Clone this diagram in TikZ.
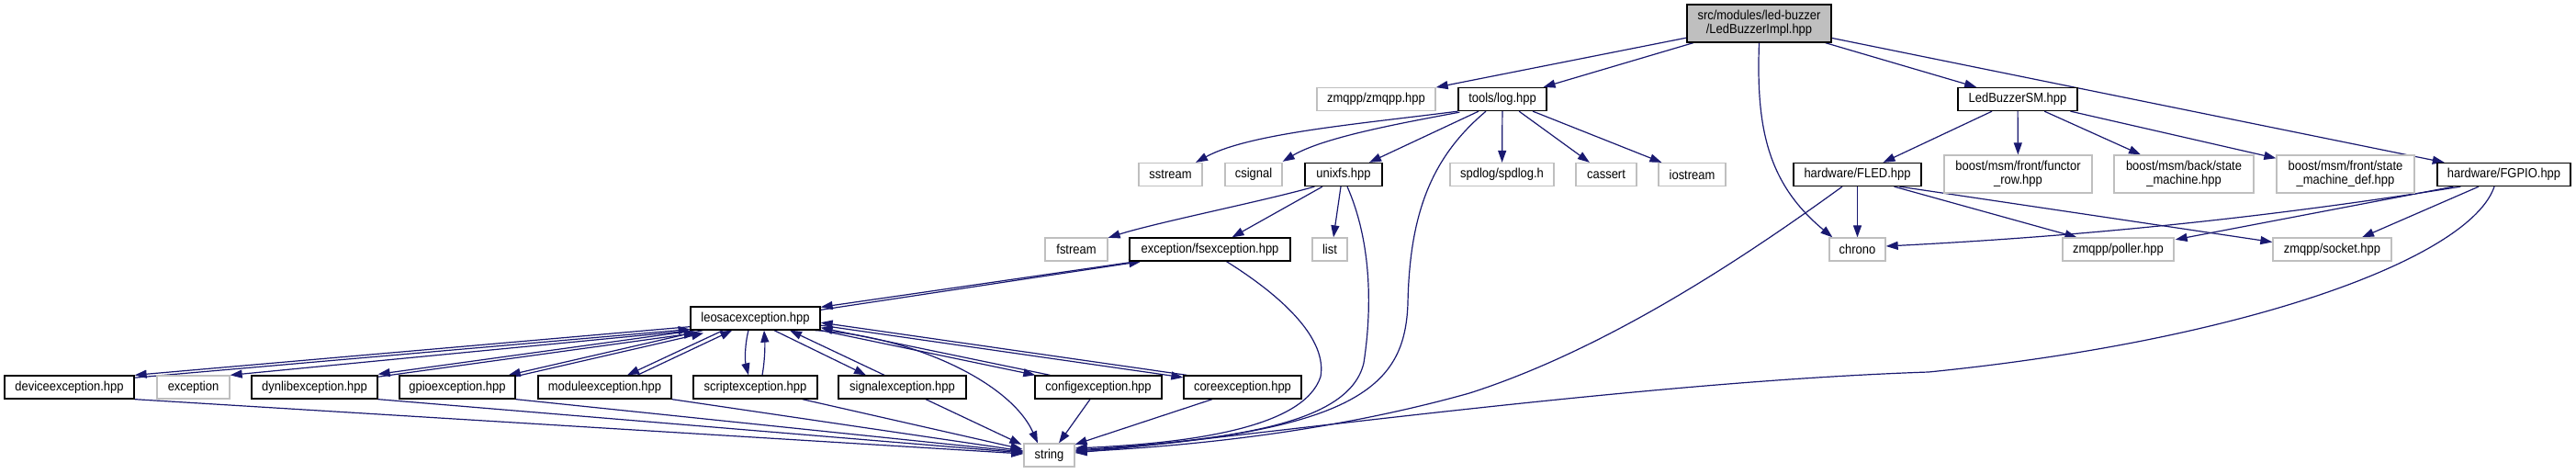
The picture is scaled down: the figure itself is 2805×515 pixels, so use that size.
\documentclass[tikz,border=0pt]{standalone}
\usepackage{fontspec}
\setmainfont{Liberation Sans}[FakeStretch=0.9]
\usetikzlibrary{arrows.meta,calc}
\definecolor{edgec}{HTML}{191970}
\definecolor{grayb}{HTML}{BFBFBF}
\definecolor{rootf}{HTML}{BFBFBF}
\pgfdeclarelayer{bg}
\pgfdeclarelayer{edges}
\pgfsetlayers{bg,edges,main}
\tikzset{
  box/.style={draw=black, fill=white, line width=1.3pt, rectangle, inner sep=0pt,
    minimum height=25pt, font=\fontsize{14.4}{15.5}\selectfont, align=center, text=black},
  ext/.style={box, draw=grayb},
  e/.style={draw=edgec, line width=1.2pt, -{Triangle[length=13pt,width=9pt]}},
}
\begin{document}
\begin{tikzpicture}[x=1pt,y=-1pt]
\begin{pgfonlayer}{bg}
\fill[white] (0,0) rectangle (2805,515);
\end{pgfonlayer}
\useasboundingbox (0,0) rectangle (2805,515);

% ---- nodes ----
\node[box, fill=rootf, minimum width=157pt, minimum height=41pt] (root) at (1915.5,25.5) {src/modules/led-buzzer\\/LedBuzzerImpl.hpp};

\node[ext, minimum width=129pt] (zmqpp) at (1498.5,108) {zmqpp/zmqpp.hpp};
\node[box, minimum width=96pt] (log) at (1636,108) {tools/log.hpp};
\node[box, minimum width=130pt] (sm) at (2197,108) {LedBuzzerSM.hpp};

\node[ext, minimum width=69pt] (sstream) at (1274.5,190) {sstream};
\node[ext, minimum width=62pt] (csignal) at (1365,190) {csignal};
\node[box, minimum width=84pt] (unixfs) at (1463,190) {unixfs.hpp};
\node[ext, minimum width=113pt] (spdlog) at (1635.5,190) {spdlog/spdlog.h};
\node[ext, minimum width=66pt] (cassert) at (1749,190) {cassert};
\node[ext, minimum width=73pt] (iostream) at (1842.5,190) {iostream};
\node[box, minimum width=139pt] (fled) at (2022.5,190) {hardware/FLED.hpp};
\node[ext, minimum width=161pt, minimum height=41pt] (functor) at (2197.5,189.5) {boost/msm/front/functor\\\_row.hpp};
\node[ext, minimum width=152pt, minimum height=41pt] (back) at (2378,189.5) {boost/msm/back/state\\\_machine.hpp};
\node[ext, minimum width=150pt, minimum height=41pt] (front) at (2554,189.5) {boost/msm/front/state\\\_machine\_def.hpp};
\node[box, minimum width=145pt] (fgpio) at (2726.5,190) {hardware/FGPIO.hpp};

\node[ext, minimum width=68pt] (fstream) at (1172,271.5) {fstream};
\node[box, minimum width=175pt] (fsex) at (1317.5,271.5) {exception/fsexception.hpp};
\node[ext, minimum width=38pt] (list) at (1448,271.5) {list};
\node[ext, minimum width=61pt] (chrono) at (2022.5,271.5) {chrono};
\node[ext, minimum width=121pt] (poller) at (2306.5,271.5) {zmqpp/poller.hpp};
\node[ext, minimum width=129pt] (socket) at (2539.5,271.5) {zmqpp/socket.hpp};

\node[box, minimum width=141pt] (leosac) at (822.5,346.5) {leosacexception.hpp};

\node[box, minimum width=141pt] (device) at (75.5,421.5) {deviceexception.hpp};
\node[ext, minimum width=79pt] (exc) at (210.5,421.5) {exception};
\node[box, minimum width=137pt] (dynlib) at (342.5,421.5) {dynlibexception.hpp};
\node[box, minimum width=126pt] (gpio) at (498,421.5) {gpioexception.hpp};
\node[box, minimum width=145pt] (module) at (658.5,421.5) {moduleexception.hpp};
\node[box, minimum width=135pt] (script) at (822.5,421.5) {scriptexception.hpp};
\node[box, minimum width=139pt] (signal) at (982.5,421.5) {signalexception.hpp};
\node[box, minimum width=138pt] (config) at (1196,421.5) {configexception.hpp};
\node[box, minimum width=128pt] (core) at (1353,421.5) {coreexception.hpp};

\node[ext, minimum width=55pt] (string) at (1142.5,495.5) {string};

% ---- edges ----
\begin{pgfonlayer}{edges}
% root
\draw[e] (root) -- (zmqpp);
\draw[e] (root) -- (log);
\draw[e] (root) -- (sm);
\draw[e] (root) -- (fgpio);
\draw[e] (root.south) .. controls (1912,140) and (1925,200) .. ($(chrono.north west)+(4,0)$);

% tools/log.hpp
\draw[e] (log.south west) .. controls (1480,135) and (1360,145) .. ($(sstream.north)+(27.5,0)$);
\draw[e] ($(log.south west)+(2,1)$) .. controls (1520,135) and (1440,150) .. ($(csignal.north east)+(0,-1)$);
\draw[e] ($(log.south)+(-26,0)$) -- ($(unixfs.north)+(28,0)$);
\draw[e] (log) -- (spdlog);
\draw[e] (log) -- (cassert);
\draw[e] (log) -- (iostream);
\draw[e] ($(log.south)+(-18,0)$) .. controls (1560,170) and (1535,230) .. (1533,330)
   .. controls (1530,420) and (1480,470) .. ($(string.east)+(0,-4.5)$);

% unixfs.hpp
\draw[e] ($(unixfs.south west)+(11,0)$) .. controls (1380,218) and (1260,242) .. ($(fstream.north east)+(0,0.5)$);
\draw[e] ($(unixfs.south)+(-23,0)$) -- ($(fsex.north)+(24,0)$);
\draw[e] ($(unixfs.south)+(-3,0)$) -- ($(list.north)+(4,0)$);
\draw[e] ($(unixfs.south)+(4,0)$) .. controls (1492,260) and (1495,330) .. (1485,395)
   .. controls (1470,460) and (1350,478) .. ($(string.east)+(0,-5.5)$);

% fsexception.hpp
\draw[e] ($(leosac.north east)+(0,4)$) -- ($(fsex.south west)+(13,0)$);
\draw[e] ($(fsex.south west)+(8,0)$) -- ($(leosac.north east)+(0,1)$);
\draw[e] ($(fsex.south)+(18,0)$) .. controls (1400,325) and (1445,370) .. (1438,410)
   .. controls (1420,465) and (1300,482) .. ($(string.east)+(0,-7.5)$);

% leosacexception pairs
\draw[e] ($(leosac.south west)+(0,-4)$) -- (device.north east);
\draw[e] ($(device.north east)+(0.25,2.8)$) -- ($(leosac.south west)+(0.25,-1.2)$);
\draw[e] ($(leosac.south west)+(4,0)$) -- (exc.north east);
\draw[e] ($(leosac.south west)+(6,0)$) -- ($(dynlib.north east)+(0,-1)$);
\draw[e] ($(dynlib.north east)+(0.4,1.8)$) -- ($(leosac.south west)+(6.4,2.8)$);
\draw[e] ($(leosac.south west)+(14,0)$) -- ($(gpio.north east)+(-8,0)$);
\draw[e] ($(gpio.north east)+(-7.3,3)$) -- ($(leosac.south west)+(14.7,3)$);
\draw[e] ($(leosac.south west)+(36,0)$) -- ($(module.north)+(24.5,0)$);
\draw[e] ($(module.north)+(35.5,0)$) -- ($(leosac.south west)+(46,0)$);
\draw[e] ($(leosac.south)+(-7.5,0)$) .. controls (811,375) and (811,392) .. ($(script.north)+(-7.5,0)$);
\draw[e] ($(script.north)+(7.5,0)$) .. controls (833,392) and (833,375) .. ($(leosac.south)+(9.5,0)$);
\draw[e] ($(leosac.south)+(20.5,0)$) -- ($(signal.north)+(-39.5,0)$);
\draw[e] ($(signal.north)+(-19.5,0)$) -- ($(leosac.south)+(37.5,0)$);
\draw[e] (leosac.south east) -- ($(config.north west)+(1,0)$);
\draw[e] ($(config.north west)+(17,0)$) -- ($(leosac.south east)+(0,-3)$);
\draw[e] ($(leosac.south east)+(0,-5.5)$) -- ($(core.north west)+(0,2.5)$);
\draw[e] ($(core.north west)+(4,0)$) -- ($(leosac.south east)+(0,-8.5)$);
\draw[e] ($(leosac.south east)+(-6,0)$) .. controls (990,365) and (1100,415) .. ($(string.north)+(-12.5,0)$);

% exceptions -> string
\draw[e] (device.south east) -- ($(string.west)+(0,-1.5)$);
\draw[e] (dynlib.south east) -- ($(string.west)+(0,-2.5)$);
\draw[e] (gpio.south east) -- ($(string.west)+(0,-3.5)$);
\draw[e] (module.south east) -- ($(string.west)+(0,-4.5)$);
\draw[e] ($(script.south east)+(-17,0)$) -- ($(string.west)+(-1,-6.5)$);
\draw[e] ($(signal.south)+(25.5,0)$) -- ($(string.north west)+(-2,1.5)$);
\draw[e] ($(config.south)+(-9,0)$) -- ($(string.north)+(10.5,0)$);
\draw[e] ($(core.south)+(-33,0)$) -- ($(string.north east)+(0,1.5)$);

% LedBuzzerSM.hpp
\draw[e] (sm) -- (fled);
\draw[e] (sm) -- (functor);
\draw[e] (sm) -- (back);
\draw[e] (sm) -- (front);

% hardware/FLED.hpp
\draw[e] (fled) -- (chrono);
\draw[e] ($(fled.south)+(40,0)$) -- ($(poller.north)+(-45,0)$);
\draw[e] ($(fled.south)+(46,0)$) -- ($(socket.west)+(0,-8)$);
\draw[e] ($(fled.south)+(-16.5,0)$) .. controls (1900,280) and (1750,380) .. (1600,428)
   .. controls (1450,470) and (1300,485) .. ($(string.east)+(0,-3.5)$);

% hardware/FGPIO.hpp
\draw[e] ($(fgpio.south west)+(26,0)$) .. controls (2450,240) and (2250,258) .. ($(chrono.east)+(0,-3.5)$);
\draw[e] ($(fgpio.south west)+(18,0)$) -- ($(poller.north east)+(1,2.5)$);
\draw[e] ($(fgpio.south)+(-27.5,0)$) -- ($(socket.north)+(32.5,0)$);
\draw[e] ($(fgpio.south)+(-10.5,0)$) .. controls (2690,280) and (2450,370) .. (2100,405)
   .. controls (1800,415) and (1400,470) .. ($(string.east)+(0,-2.5)$);
\end{pgfonlayer}
\end{tikzpicture}
\end{document}
